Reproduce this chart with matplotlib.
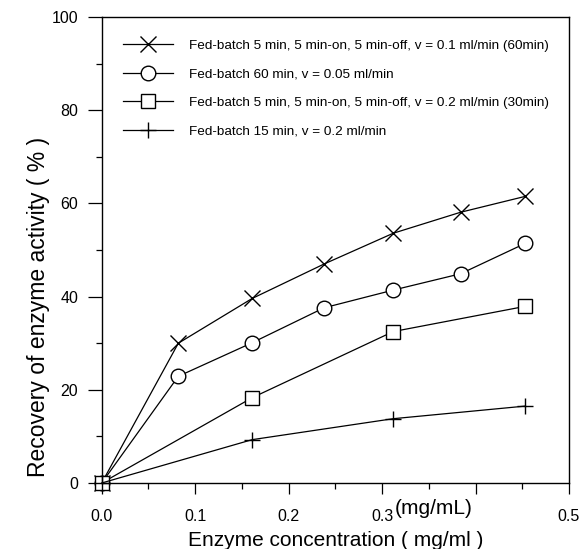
import matplotlib
matplotlib.use('Agg')
import matplotlib.pyplot as plt
import matplotlib.transforms as mtransforms

plt.rcParams['font.family'] = ['Liberation Sans', 'DejaVu Sans']

# enzyme concentration (mg/ml) and recovery (%)
x_a = [0.0, 0.082, 0.161, 0.238, 0.312, 0.384, 0.453]
y_a = [0.0, 30.0, 39.6, 47.0, 53.6, 58.1, 61.5]

x_b = [0.0, 0.082, 0.161, 0.238, 0.312, 0.384, 0.453]
y_b = [0.0, 22.9, 30.1, 37.6, 41.4, 44.9, 51.4]

x_c = [0.0, 0.161, 0.312, 0.453]
y_c = [0.0, 18.3, 32.5, 37.9]

x_d = [0.0, 0.161, 0.312, 0.453]
y_d = [0.0, 9.3, 13.8, 16.5]

labels = ['Fed-batch 5 min, 5 min-on, 5 min-off, v = 0.1 ml/min (60min)',
          'Fed-batch 60 min, v = 0.05 ml/min',
          'Fed-batch 5 min, 5 min-on, 5 min-off, v = 0.2 ml/min (30min)',
          'Fed-batch 15 min, v = 0.2 ml/min']

xticks = [0.0, 0.1, 0.2, 0.3, 0.4, 0.5]
xticklabels = ['0.0', '0.1', '0.2', '0.3', '', '0.5']
yticks = [0, 20, 40, 60, 80, 100]

fig = plt.figure(figsize=(5.82, 5.49), dpi=100)
ax = fig.add_axes([101.7/582, 1 - 483/549, (569 - 101.7)/582, (483 - 17)/549])

kw = dict(color='black', lw=0.9, mfc='white', mec='black', clip_on=False)
ax.plot(x_a, y_a, marker='x', ms=11, mew=1.0, label=labels[0], **kw)
ax.plot(x_b, y_b, marker='o', ms=10.5, mew=1.0, label=labels[1], **kw)
ax.plot(x_c, y_c, marker='s', ms=9.5, mew=1.0, label=labels[2], **kw)
ax.plot(x_d, y_d, marker='+', ms=12, mew=1.0, label=labels[3], **kw)

ax.set_xlim(0, 0.5)
ax.set_ylim(0, 100)
ax.set_xticks(xticks)
ax.set_xticklabels(xticklabels)
ax.set_yticks(yticks)
ax.set_xticks([0.05, 0.15, 0.25, 0.35, 0.45], minor=True)
ax.set_yticks([10, 30, 50, 70, 90], minor=True)
ax.tick_params(which='major', direction='out', width=0.9, labelsize=11.5)
ax.tick_params(axis='x', which='major', length=8, pad=11)
ax.tick_params(axis='y', which='major', length=10, pad=7)
ax.tick_params(which='minor', direction='out', length=4, width=0.9)
for s in ax.spines.values():
    s.set_linewidth(1.0)

fig.text(336/582, 1 - 540/549, 'Enzyme concentration ( mg/ml )', fontsize=15,
         ha='center', va='center')
fig.text(39/582, 1 - 307/549, 'Recovery of enzyme activity ( % )', fontsize=16.5,
         ha='center', va='center', rotation=90)

trans = mtransforms.blended_transform_factory(ax.transData, ax.transAxes)
ax.text(0.314, -0.054, '(mg/mL)', transform=trans, ha='left', va='center', fontsize=15)

ax.legend(loc='upper left', bbox_to_anchor=(0.045, 0.952), frameon=False,
          fontsize=9.7, handlelength=3.7, handletextpad=1.2, labelspacing=1.2,
          borderpad=0, borderaxespad=0)

fig.savefig('out.png', dpi=100)
